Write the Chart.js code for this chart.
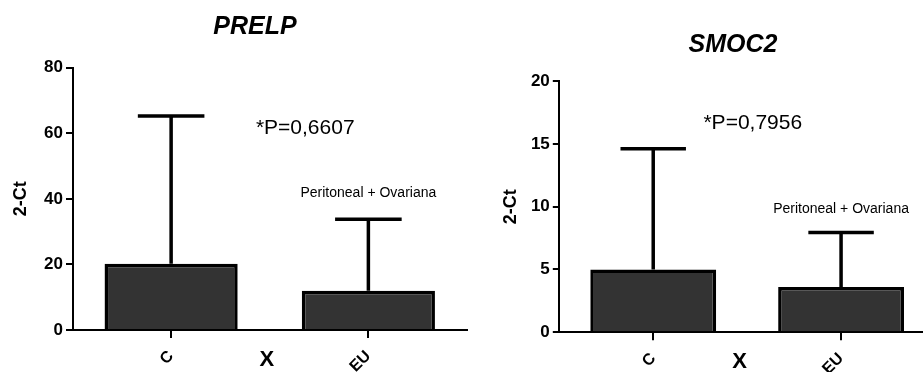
<!DOCTYPE html>
<html>
<head>
<meta charset="utf-8">
<script src="https://cdn.jsdelivr.net/npm/chart.js@4.4.1/dist/chart.umd.min.js"></script>
<style>
  html, body { margin: 0; padding: 0; background: #fff; }
  body { width: 923px; height: 372px; position: relative; overflow: hidden; }
  canvas { position: absolute; top: 0; }
  #prelp { left: 0; }
  #smoc2 { left: 470px; }
</style>
</head>
<body>
<canvas id="prelp" width="480" height="372"></canvas>
<canvas id="smoc2" width="480" height="372"></canvas>
<script>
var groups = ['C', 'EU'];

var prelpMean = [20.2, 12.0];
var prelpUpper = [65.3, 33.8];
var prelpTicks = [0, 20, 40, 60, 80];

var smoc2Mean = [5.0, 3.6];
var smoc2Upper = [14.6, 7.95];
var smoc2Ticks = [0, 5, 10, 15, 20];

var prelpP = '*P=0,6607';
var smoc2P = '*P=0,7956';
var groupNote = 'Peritoneal + Ovariana';

Chart.defaults.font.family = "'Liberation Sans', Arial, Helvetica, sans-serif";
Chart.defaults.color = '#000';

function makeChart(id, o) {
  // mean +/- SD style whiskers (upper only) drawn on top of the bars
  var whiskers = {
    id: 'whiskers',
    afterDatasetsDraw: function(chart) {
      var ctx = chart.ctx, y = chart.scales.y;
      var bars = chart.getDatasetMeta(0).data;
      ctx.save();
      ctx.strokeStyle = '#000';
      ctx.lineWidth = 3.5;
      bars.forEach(function(bar, i) {
        var top = y.getPixelForValue(o.upper[i]);
        var half = bar.width * o.cap / 2;
        ctx.beginPath();
        ctx.moveTo(bar.x, bar.y);
        ctx.lineTo(bar.x, top);
        ctx.moveTo(bar.x - half, top);
        ctx.lineTo(bar.x + half, top);
        ctx.stroke();
      });
      ctx.restore();
    }
  };

  // title, p value, group note and the "X" between categories
  var texts = {
    id: 'texts',
    afterDraw: function(chart) {
      var ctx = chart.ctx, x = chart.scales.x, y = chart.scales.y;
      ctx.save();
      ctx.fillStyle = '#000';
      ctx.textAlign = 'center';
      ctx.textBaseline = 'middle';

      ctx.font = "italic bold 25px 'Liberation Sans', Arial, sans-serif";
      ctx.fillText(o.title, o.titleX, o.titleY);

      ctx.font = "21px 'Liberation Sans', Arial, sans-serif";
      ctx.fillText(o.p, x.getPixelForValue(o.pAt[0]), y.getPixelForValue(o.pAt[1]));

      ctx.font = "14px 'Liberation Sans', Arial, sans-serif";
      ctx.fillText(groupNote, x.getPixelForValue(o.noteAt[0]), y.getPixelForValue(o.noteAt[1]));

      ctx.font = "bold 22px 'Liberation Sans', Arial, sans-serif";
      ctx.fillText('X', x.getPixelForValue(o.crossAt), y.bottom + 30);
      ctx.restore();
    }
  };

  return new Chart(document.getElementById(id), {
    type: 'bar',
    data: {
      labels: groups,
      datasets: [{
        data: o.mean,
        backgroundColor: '#333333',
        borderColor: '#000',
        borderWidth: 3.5,
        borderSkipped: 'bottom',
        categoryPercentage: 1,
        barPercentage: o.barPct
      }]
    },
    options: {
      responsive: false,
      animation: false,
      events: [],
      layout: { padding: { top: o.top, right: o.right, left: 0, bottom: 0 } },
      plugins: { legend: { display: false }, tooltip: { enabled: false }, title: { display: false } },
      scales: {
        x: {
          grid: { display: true, drawOnChartArea: false, offset: false, tickLength: 8, color: '#000', lineWidth: 2 },
          border: { display: true, color: '#000', width: 2 },
          ticks: {
            autoSkip: false, minRotation: 45, maxRotation: 45, padding: 9,
            font: { size: 16, weight: 'bold' }, color: '#000'
          },
          afterFit: function(s) {
            s.height = 372 - o.bottom;
            s.paddingLeft = 0; s.paddingRight = 0;
          }
        },
        y: {
          min: 0, max: o.ticks[o.ticks.length - 1],
          grid: { display: true, drawOnChartArea: false, tickLength: 6.5, color: '#000', lineWidth: 2 },
          border: { display: true, color: '#000', width: 2 },
          afterBuildTicks: function(s) {
            s.ticks = o.ticks.map(function(v) { return { value: v }; });
          },
          ticks: { padding: 3, font: { size: 17, weight: 'bold' }, color: '#000' },
          title: {
            display: true, text: '2-Ct', color: '#000',
            font: { size: 18, weight: 'bold' },
            padding: { top: o.yTitlePad, bottom: 0 }
          },
          afterFit: function(s) {
            s.width = o.left;
            s.paddingTop = 0; s.paddingBottom = 0;
          }
        }
      }
    },
    plugins: [whiskers, texts]
  });
}

makeChart('prelp', {
  title: 'PRELP', titleX: 255, titleY: 27,
  mean: prelpMean, upper: prelpUpper, ticks: prelpTicks,
  p: prelpP, pAt: [0.68, 61.6], noteAt: [1.0, 41.8], crossAt: 0.485,
  left: 72.5, top: 67.7, bottom: 330, right: 13,
  yTitlePad: 10.7, barPct: 0.675, cap: 0.5
});

makeChart('smoc2', {
  title: 'SMOC2', titleX: 263, titleY: 45,
  mean: smoc2Mean, upper: smoc2Upper, ticks: smoc2Ticks,
  p: smoc2P, pAt: [0.53, 16.67], noteAt: [1.0, 9.8], crossAt: 0.46,
  left: 89.3, top: 81, bottom: 332.3, right: 15,
  yTitlePad: 30.7, barPct: 0.67, cap: 0.52
});
</script>
</body>
</html>
